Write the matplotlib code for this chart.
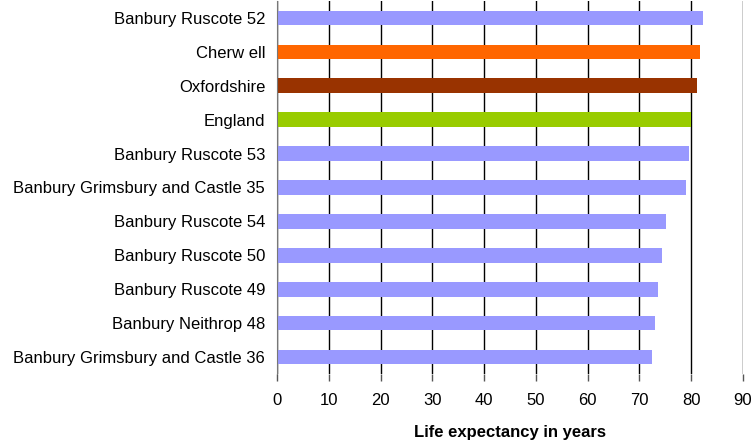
import numpy as np
import matplotlib.pyplot as plt

plt.rcParams['font.family'] = ['Liberation Sans', 'DejaVu Sans']

# dados (de cima para baixo)
areas = ['Banbury Ruscote 52', 'Cherw ell', 'Oxfordshire', 'England',
         'Banbury Ruscote 53', 'Banbury Grimsbury and Castle 35',
         'Banbury Ruscote 54', 'Banbury Ruscote 50', 'Banbury Ruscote 49',
         'Banbury Neithrop 48', 'Banbury Grimsbury and Castle 36']
expectativa = [82.2, 81.7, 81.1, 79.9, 79.5, 79.0, 75.1, 74.3, 73.6, 73.0, 72.4]
cores = ['#9999FF', '#FF6600', '#993300', '#99CC00'] + ['#9999FF'] * 7

fig = plt.figure(figsize=(7.55, 4.46), dpi=100)
ax = fig.add_axes([0.3669, 0.1614, 0.6172, 0.8364])

y = np.arange(len(areas))
ax.barh(y, expectativa, height=0.43, color=cores, zorder=2)

ax.set_ylim(len(areas) - 0.5, -0.5)
ax.set_xlim(0, 90)
ax.set_xticks(np.arange(0, 91, 10))
ax.set_yticks(y)
ax.set_yticklabels(areas, fontsize=12)
ax.tick_params(axis='y', length=0, pad=8.5)
ax.tick_params(axis='x', length=5, width=1, color='#555555', pad=9, labelsize=12)

ax.grid(axis='x', color='black', linewidth=1, zorder=1)
for lado in ['top', 'right', 'bottom']:
    ax.spines[lado].set_visible(False)
ax.spines['left'].set_color('#777777')

ax.set_xlabel('Life expectancy in years', fontsize=12, fontweight='bold', labelpad=12)

fig.savefig('out.png', dpi=100)
